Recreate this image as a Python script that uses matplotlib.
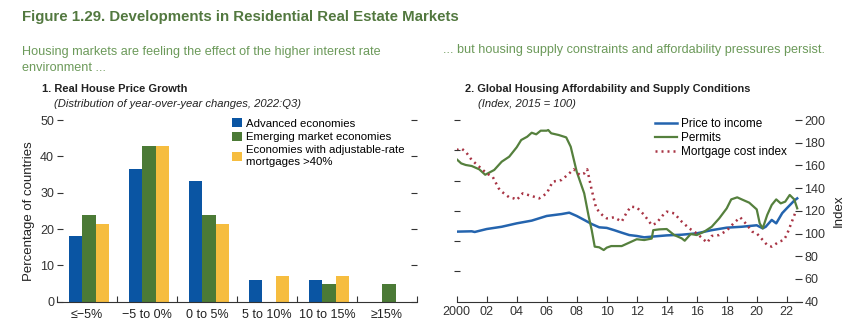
import numpy as np
import matplotlib
matplotlib.use("Agg")
import matplotlib.pyplot as plt

plt.rcParams['font.family'] = ['Liberation Sans Narrow', 'Liberation Sans', 'DejaVu Sans']

# panel 1: share of countries by real house price growth bucket
categories = ["≤−5%", "−5 to 0%", "0 to 5%", "5 to 10%", "10 to 15%", "≥15%"]
advanced = [18.2, 36.4, 33.3, 6.1, 6.1, 0.0]
emerging = [23.8, 42.9, 23.8, 0.0, 4.8, 4.8]
adjustable = [21.4, 42.9, 21.4, 7.1, 7.1, 0.0]
bar_labels = ["Advanced economies", "Emerging market economies",
              "Economies with adjustable-rate\nmortgages >40%"]

# panel 2: index series, 2015 = 100
pti_year = [2000, 2001, 2001.2, 2002, 2003, 2004, 2005, 2006, 2007, 2007.5, 2008, 2008.5,
            2009, 2009.5, 2010, 2010.5, 2011, 2011.5, 2012, 2012.5, 2013, 2014, 2015,
            2016, 2017, 2018, 2019, 2020, 2020.4, 2020.6, 2021, 2021.3, 2021.7, 2022,
            2022.5, 2022.7]
pti_val = [101.7, 102, 101.4, 104, 106, 109, 111.4, 115.5, 117.2, 118.4, 115.5, 112,
           108.4, 105.5, 105, 103, 100.8, 98.7, 97.9, 96.7, 97.3, 98.4, 99,
           100.2, 103, 105.2, 106, 107.3, 104.6, 106, 112, 109, 118, 122.2,
           129, 131]

permit_year = [2000, 2000.3, 2000.6, 2001, 2001.5, 2001.9, 2002.5, 2003, 2003.5, 2004,
               2004.3, 2004.7, 2005, 2005.3, 2005.6, 2006, 2006.1, 2006.3, 2006.8, 2007.3,
               2007.6, 2008, 2008.5, 2008.8, 2009, 2009.2, 2009.5, 2009.8, 2010, 2010.3,
               2011, 2011.5, 2012, 2012.5, 2013, 2013.1, 2013.5, 2014, 2014.5, 2015,
               2015.2, 2015.6, 2016, 2016.5, 2017, 2017.5, 2018, 2018.3, 2018.7, 2019,
               2019.5, 2020, 2020.2, 2020.4, 2020.7, 2021, 2021.3, 2021.6, 2021.9, 2022.2,
               2022.5, 2022.7]
permit_val = [165.4, 161.8, 160.4, 159.5, 156.6, 151.8, 156, 163.3, 167.7, 176,
              182.4, 185.3, 188.8, 187.4, 190.6, 190.6, 191.2, 188.3, 186.8, 184.7,
              176.5, 154.5, 135.4, 115, 103.1, 88.5, 87.9, 85.5, 87.6, 89,
              89, 92, 95, 94.3, 95.6, 103, 103.7, 104, 98.7, 95.8,
              93.7, 99.6, 98.7, 101.7, 106, 113.4, 122.2, 130.1, 131.9, 130.1,
              127.2, 121.3, 109, 104.6, 116.4, 125.2, 130.1, 126.6, 128.1, 134,
              130.1, 122.2]

mci_year = [2000, 2000.3, 2000.6, 2001, 2001.5, 2002, 2002.4, 2002.8, 2003, 2003.5,
            2003.8, 2004, 2004.4, 2005, 2005.5, 2006, 2006.4, 2007, 2007.5, 2007.8,
            2008.2, 2008.5, 2008.7, 2009, 2009.3, 2009.7, 2010, 2010.5, 2011, 2011.3,
            2011.6, 2012, 2012.5, 2013, 2013.3, 2013.7, 2014, 2014.5, 2015, 2015.5,
            2016, 2016.5, 2016.7, 2017, 2017.5, 2018, 2018.5, 2018.9, 2019.3, 2019.7,
            2020, 2020.3, 2020.7, 2021, 2021.5, 2021.8, 2022, 2022.3, 2022.6]
mci_val = [173.6, 175, 172.1, 164.8, 158.9, 153, 150, 139.8, 136.9, 131.9,
           131, 129.6, 135.4, 133.1, 131, 135.4, 145.7, 147.2, 153, 156.6,
           151.6, 153, 156.6, 138.4, 122.2, 116.4, 113.4, 114.3, 110.5, 117.8,
           123.7, 123.1, 116.4, 107.5, 109, 115.5, 119.3, 117.8, 110.5, 104.6,
           100.2, 94.3, 92, 97.9, 98.7, 102.6, 109.6, 114.3, 108.4, 101.7,
           100.2, 95.8, 89.9, 88.5, 92.9, 94.3, 98.7, 109, 119.3]

BLUE = "#0a55a3"
GREEN = "#4b7a36"
YELLOW = "#f6bd3f"
LINE_BLUE = "#2464ae"
LINE_GREEN = "#55803d"
DOT_RED = "#a83444"
TITLE_GREEN = "#52783f"
SUB_GREEN = "#6c9a5a"
INK = "#222222"

fig = plt.figure(figsize=(8.5, 3.24), dpi=100)

fig.text(0.026, 0.947, "Figure 1.29. Developments in Residential Real Estate Markets",
         fontsize=10.8, fontweight="bold", color=TITLE_GREEN, va="center")
fig.text(0.026, 0.815, "Housing markets are feeling the effect of the higher interest rate\nenvironment ...",
         fontsize=9.1, color=SUB_GREEN, va="center", linespacing=1.45)
fig.text(0.521, 0.846, "... but housing supply constraints and affordability pressures persist.",
         fontsize=9.1, color=SUB_GREEN, va="center")

fig.text(0.049, 0.725, "1. Real House Price Growth", fontsize=8, fontweight="bold",
         va="center", color=INK)
fig.text(0.064, 0.679, "(Distribution of year-over-year changes, 2022:Q3)",
         fontsize=8.1, style="italic", va="center", color=INK)
fig.text(0.547, 0.725, "2. Global Housing Affordability and Supply Conditions",
         fontsize=7.9, fontweight="bold", va="center", color=INK)
fig.text(0.562, 0.679, "(Index, 2015 = 100)", fontsize=8.1, style="italic",
         va="center", color=INK)

# ---- panel 1: grouped bars
ax1 = fig.add_axes([0.067, 0.0688, 0.4235, 0.5608])
x = np.arange(len(categories))
w = 0.22
shift = 0.035
for k, (vals, col) in enumerate([(advanced, BLUE), (emerging, GREEN), (adjustable, YELLOW)]):
    ax1.bar(x + (k - 1) * w + shift, vals, width=w, color=col, label=bar_labels[k])

ax1.set_xlim(-0.5, len(categories) - 0.5)
ax1.set_ylim(0, 50)
for s in ["top", "left", "right"]:
    ax1.spines[s].set_visible(False)
ax1.spines["bottom"].set_color("#333333")
ax1.set_yticks([0, 10, 20, 30, 40, 50])
ax1.tick_params(axis="y", which="both", direction="in", length=4, width=0.8,
                left=True, right=True, labelsize=9, pad=2, colors="#333333")
ax1.set_xticks(np.arange(-0.5, len(categories), 1.0))
ax1.set_xticklabels([])
ax1.tick_params(axis="x", direction="in", length=4, width=0.8, colors="#333333")
for i, c in enumerate(categories):
    ax1.text(i, -2.0, c, ha="center", va="top", fontsize=9, color=INK)
ax1.set_ylabel("Percentage of countries", fontsize=9.5, labelpad=4, color=INK)

leg1 = ax1.legend(loc="upper left", bbox_to_anchor=(0.475, 1.035), frameon=False,
                  fontsize=8.2, handlelength=0.85, handleheight=0.85,
                  handletextpad=0.3, labelspacing=0.25, borderaxespad=0)
for t in leg1.get_texts():
    t.set_linespacing(1.3)

# ---- panel 2: index lines
ax2 = fig.add_axes([0.5373, 0.0688, 0.4059, 0.5608])

# unlabeled marks on the left edge, own scale
ax2b = ax2.twinx()
ax2b.set_ylim(0, 6)
for s in ["top", "left", "right", "bottom"]:
    ax2b.spines[s].set_visible(False)
ax2b.yaxis.tick_left()
ax2b.set_yticks([1, 2, 3, 4, 5, 6])
ax2b.tick_params(axis="y", direction="inout", length=5, width=0.8, labelleft=False,
                 colors="#333333")
ax2b.tick_params(axis="x", labelbottom=False, bottom=False)

ax2.plot(pti_year, pti_val, color=LINE_BLUE, lw=1.8, label="Price to income")
ax2.plot(permit_year, permit_val, color=LINE_GREEN, lw=1.6, label="Permits")
ax2.plot(mci_year, mci_val, color=DOT_RED, lw=1.8, linestyle=(0, (0.8, 1.6)),
         label="Mortgage cost index")
ax2.set_xlim(2000, 2023)
ax2.set_ylim(40, 200)
for s in ["top", "left", "right"]:
    ax2.spines[s].set_visible(False)
ax2.spines["bottom"].set_color("#333333")
ax2.set_xticks(np.arange(2000, 2023, 2))
ax2.set_xticklabels(["2000"] + [f"{y % 100:02d}" for y in range(2002, 2023, 2)])
ax2.tick_params(axis="x", direction="in", length=4, width=0.8, labelsize=9,
                pad=3, colors="#333333")
ax2.set_yticks(np.arange(40, 201, 20))
ax2.tick_params(axis="y", direction="in", length=5, width=0.8, labelsize=9, pad=2,
                colors="#333333", left=False, labelleft=False, right=True, labelright=True)
ax2.yaxis.set_label_position("right")
ax2.set_ylabel("Index", fontsize=9.5, rotation=90, labelpad=5, color=INK)

ax2.legend(loc="upper left", bbox_to_anchor=(0.56, 1.035), frameon=False,
           fontsize=8.5, handlelength=1.9, handletextpad=0.3,
           labelspacing=0.15, borderaxespad=0)

fig.savefig("out.png", dpi=100)
